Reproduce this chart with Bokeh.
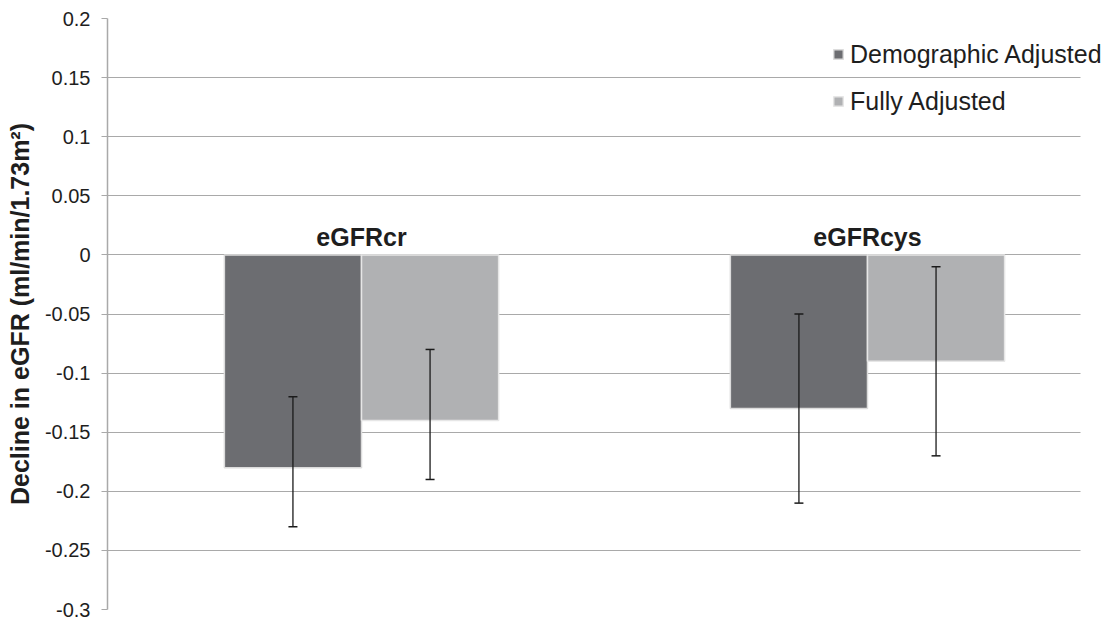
from bokeh.plotting import figure
from bokeh.models import (ColumnDataSource, FixedTicker, CustomJSTickFormatter, Whisker,
                          TeeHead, Legend, LegendItem, Range1d, BoxAnnotation)
from bokeh.core.properties import value
from bokeh.embed import file_html
from bokeh.resources import INLINE

# ---- data ----
categories = ["eGFRcr", "eGFRcys"]
series = ["Demographic Adjusted", "Fully Adjusted"]
demographic = [-0.18, -0.13]
fully = [-0.14, -0.09]
demographic_lower = [-0.23, -0.21]
demographic_upper = [-0.12, -0.05]
fully_lower = [-0.19, -0.17]
fully_upper = [-0.08, -0.01]
y_ticks = [0.2, 0.15, 0.1, 0.05, 0.0, -0.05, -0.1, -0.15, -0.2, -0.25, -0.3]

# ---- styling ----
FONT = "Liberation Sans"
DARK = "#6c6d71"
LIGHT = "#b0b1b3"
GRID = "#a9a9a9"
TEXT = "#1e1e1e"
BAR_W = 0.271
OFF = 0.1355
X_START, X_GRID_END, X_END = -0.502, 1.421, 1.4704

idx = list(range(len(categories)))
src_d = ColumnDataSource(dict(x=[i - OFF for i in idx], top=demographic,
                              lower=demographic_lower, upper=demographic_upper))
src_f = ColumnDataSource(dict(x=[i + OFF for i in idx], top=fully,
                              lower=fully_lower, upper=fully_upper))

p = figure(width=1105, height=620, output_backend="svg", toolbar_location=None,
           x_range=Range1d(X_START, X_END), y_range=Range1d(-0.3, 0.2),
           min_border_left=107, min_border_right=0, min_border_top=18, min_border_bottom=11)

p.outline_line_color = None
p.background_fill_color = "white"
p.xaxis.visible = False
p.xgrid.visible = False

p.yaxis.ticker = FixedTicker(ticks=y_ticks)
p.ygrid.ticker = FixedTicker(ticks=y_ticks)
p.yaxis.formatter = CustomJSTickFormatter(
    code="var s = tick.toFixed(2); s = s.replace(/0+$/, '').replace(/\\.$/, ''); if (s === '-0') s = '0'; return s;")
p.yaxis.minor_tick_line_color = None
p.yaxis.axis_line_color = GRID
p.yaxis.axis_line_width = 1.5
p.yaxis.major_tick_line_color = GRID
p.yaxis.major_tick_in = 0
p.yaxis.major_tick_out = 6
p.yaxis.major_label_standoff = 11
p.yaxis.major_label_text_font = FONT
p.yaxis.major_label_text_font_size = "20px"
p.yaxis.major_label_text_color = TEXT
p.yaxis.axis_label = "Decline in eGFR (ml/min/1.73m\u00b2)"
p.yaxis.axis_label_text_font = FONT
p.yaxis.axis_label_text_font_style = "bold"
p.yaxis.axis_label_text_font_size = "25px"
p.yaxis.axis_label_text_color = TEXT
p.yaxis.axis_label_standoff = 8
p.ygrid.grid_line_color = GRID
p.ygrid.grid_line_width = 1.2

# hide the gridlines beyond the chart's right end (the legend overhangs there)
p.add_layout(BoxAnnotation(left=X_GRID_END, fill_color="white", fill_alpha=1.0,
                           line_color=None, level="underlay"))

r_d = p.vbar(x="x", top="top", bottom=0, width=BAR_W, source=src_d,
             fill_color=DARK, line_color="#dcdcdc", line_width=1.5)
r_f = p.vbar(x="x", top="top", bottom=0, width=BAR_W, source=src_f,
             fill_color=LIGHT, line_color="#e6e6e6", line_width=1.5)

for src in (src_d, src_f):
    w = Whisker(base="x", upper="upper", lower="lower", source=src,
                line_color="#1a1a1a", line_width=1.3, level="overlay",
                upper_head=TeeHead(size=9, line_color="#1a1a1a", line_width=1.5),
                lower_head=TeeHead(size=9, line_color="#1a1a1a", line_width=1.5))
    p.add_layout(w)

p.text(x=idx, y=[0, 0], text=categories, text_align="center", text_baseline="alphabetic",
       y_offset=-18, text_font=value(FONT), text_font_style="bold",
       text_font_size="25px", text_color=TEXT)

legend = Legend(items=[LegendItem(label=series[0], renderers=[r_d]),
                       LegendItem(label=series[1], renderers=[r_f])],
                location=(725, 493), orientation="vertical",
                glyph_width=12, glyph_height=12, label_standoff=6,
                padding=0, margin=0, spacing=17, label_height=30,
                border_line_color=None, background_fill_alpha=0,
                label_text_font=FONT, label_text_font_size="25px",
                label_text_color=TEXT)
p.add_layout(legend)

open("out.html", "w").write(file_html(p, INLINE))
